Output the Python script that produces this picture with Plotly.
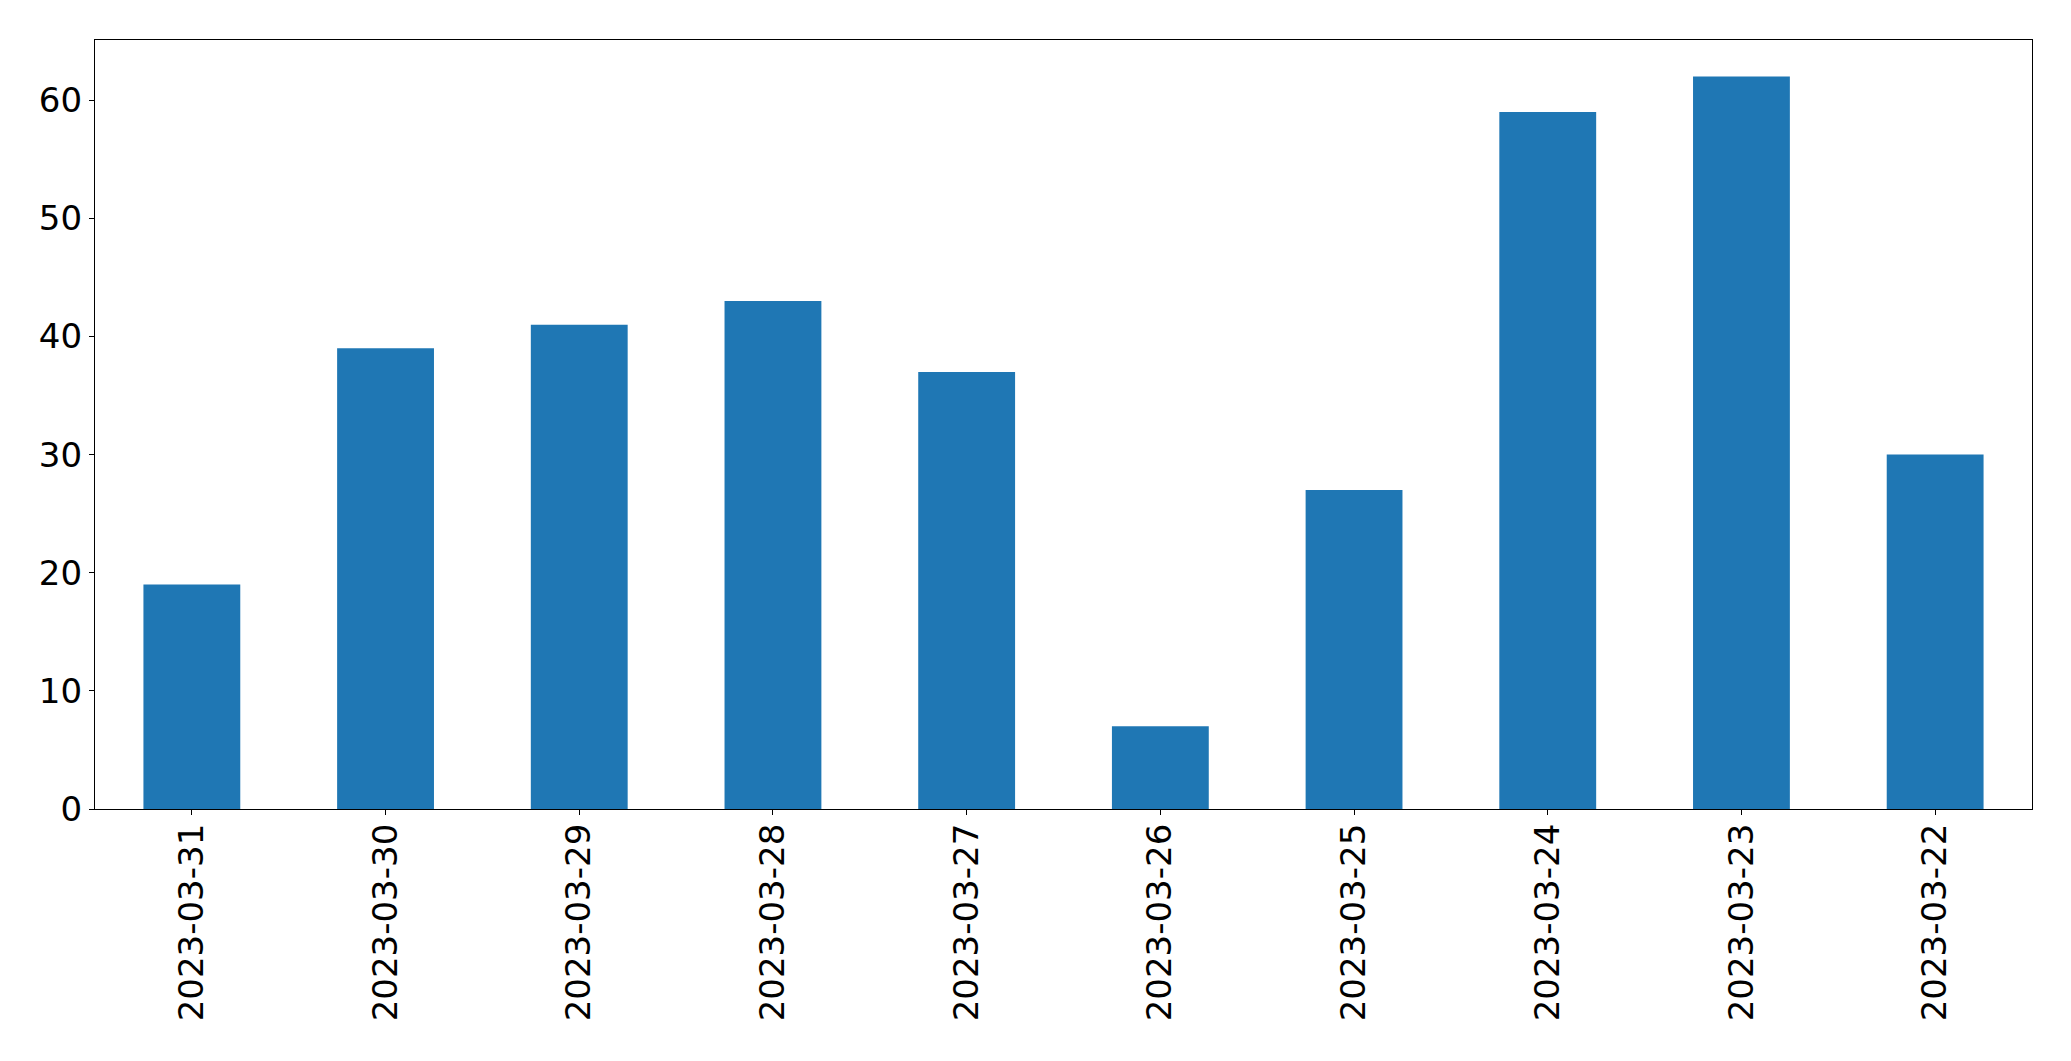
import plotly.graph_objects as go

dates = ["2023-03-31", "2023-03-30", "2023-03-29", "2023-03-28", "2023-03-27",
         "2023-03-26", "2023-03-25", "2023-03-24", "2023-03-23", "2023-03-22"]
counts = [19, 39, 41, 43, 37, 7, 27, 59, 62, 30]
y_ticks = [0, 10, 20, 30, 40, 50, 60]

fig = go.Figure(
    go.Bar(
        x=dates,
        y=counts,
        width=0.5,
        marker=dict(color="#1f77b4", line=dict(width=0)),
    )
)

axis_common = dict(
    showline=True,
    linecolor="black",
    linewidth=1.3,
    mirror=True,
    ticks="outside",
    ticklen=5,
    tickwidth=1.3,
    tickcolor="black",
    showgrid=False,
    zeroline=False,
    tickfont=dict(family="DejaVu Sans", size=34, color="black"),
)

fig.update_xaxes(type="category", range=[-0.5, len(dates) - 0.5], tickangle=-90,
                 ticklabelstandoff=-5, **axis_common)
fig.update_yaxes(range=[0, 65.1], tickvals=y_ticks, **axis_common)

fig.update_layout(
    width=2071,
    height=1061,
    margin=dict(l=95, r=39, t=40, b=252),
    plot_bgcolor="white",
    paper_bgcolor="white",
    showlegend=False,
    bargap=0.5,
)

fig.write_html("out.html")
